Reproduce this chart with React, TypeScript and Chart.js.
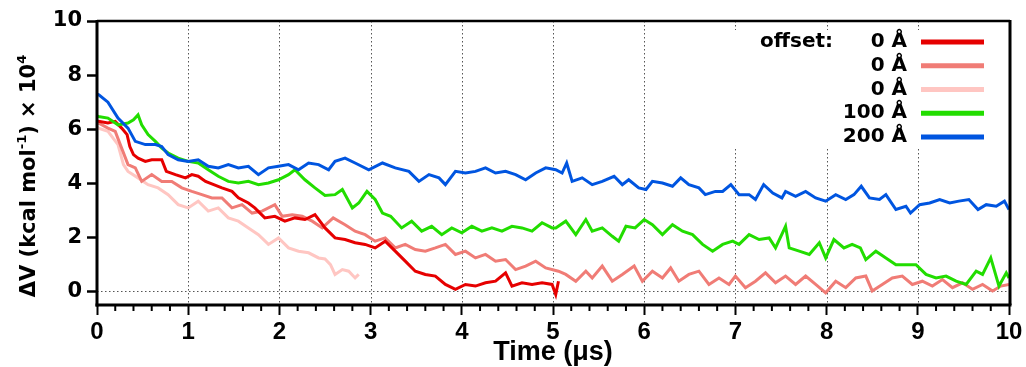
import React, { useEffect, useRef } from 'react';
import { Chart, registerables } from 'chart.js';
Chart.register(...registerables);

// ---- data (time in µs, ΔV in kcal/mol ×10^4) ----
const blueT = [0, 0.02, 0.12, 0.23, 0.34, 0.42, 0.53, 0.64, 0.71, 0.78, 0.89, 1.0, 1.11, 1.22, 1.33, 1.44, 1.55, 1.66, 1.77, 1.88, 1.99, 2.1, 2.21, 2.32, 2.43,
  2.54, 2.61, 2.72, 2.83, 2.98, 3.13, 3.27, 3.42, 3.53, 3.64, 3.75, 3.82, 3.93, 4.04, 4.15, 4.26, 4.37, 4.48, 4.59, 4.7, 4.81, 4.92, 5.03,
  5.1, 5.15, 5.21, 5.32, 5.43, 5.54, 5.67, 5.76, 5.83, 5.94, 6.02, 6.09, 6.2, 6.31, 6.4, 6.49, 6.6, 6.67, 6.78, 6.86, 6.95, 7.04, 7.15, 7.22, 7.31, 7.41, 7.51,
  7.55, 7.66, 7.77, 7.88, 7.99, 8.1, 8.21, 8.3, 8.38, 8.47, 8.58, 8.65, 8.76, 8.87, 8.92, 9.02, 9.13, 9.24, 9.35, 9.45, 9.56, 9.66, 9.75, 9.86, 9.95, 10.0];
const blueV = [7.3, 7.27, 7.0, 6.41, 6.04, 5.55, 5.43, 5.43, 5.36, 5.06, 4.87, 4.81, 4.87, 4.63, 4.57, 4.69, 4.57, 4.63, 4.32, 4.57, 4.63, 4.69, 4.5, 4.75, 4.69,
  4.5, 4.81, 4.93, 4.75, 4.5, 4.75, 4.57, 4.44, 4.07, 4.32, 4.2, 3.95, 4.44, 4.38, 4.44, 4.57, 4.38, 4.44, 4.32, 4.13, 4.38, 4.57, 4.5,
  4.38, 4.75, 4.07, 4.2, 3.95, 4.07, 4.26, 3.95, 4.13, 3.83, 3.77, 4.07, 4.01, 3.89, 4.2, 3.95, 3.83, 3.58, 3.7, 3.7, 3.95, 3.58, 3.58, 3.4, 3.95, 3.64, 3.46,
  3.7, 3.52, 3.7, 3.46, 3.34, 3.58, 3.4, 3.58, 3.89, 3.46, 3.4, 3.58, 3.03, 3.15, 2.9, 3.21, 3.27, 3.4, 3.27, 3.34, 3.4, 3.03, 3.21, 3.15, 3.34, 3.03];

const greenT = [0, 0.015, 0.12, 0.23, 0.34, 0.4, 0.45, 0.49, 0.56, 0.64, 0.71, 0.78, 0.89, 1.0, 1.11, 1.22, 1.33, 1.44, 1.55, 1.66, 1.77, 1.88, 1.99, 2.1, 2.17, 2.28, 2.39, 2.5,
  2.61, 2.69, 2.8, 2.87, 2.96, 3.05, 3.13, 3.22, 3.34, 3.45, 3.56, 3.67, 3.78, 3.89, 4.0, 4.11, 4.22, 4.33, 4.44, 4.55, 4.66, 4.77, 4.88, 4.99,
  5.03, 5.14, 5.25, 5.36, 5.43, 5.54, 5.65, 5.72, 5.8, 5.9, 6.0, 6.09, 6.2, 6.31, 6.42, 6.53, 6.64, 6.75, 6.86, 6.97, 7.04, 7.15, 7.26, 7.37, 7.44, 7.55,
  7.59, 7.7, 7.81, 7.92, 7.99, 8.08, 8.19, 8.28, 8.37, 8.43, 8.54, 8.65, 8.76, 8.87, 8.98, 9.09, 9.2, 9.31, 9.42, 9.53, 9.64, 9.71, 9.8, 9.89, 9.97, 10.0];
const greenV = [6.5, 6.47, 6.41, 6.16, 6.23, 6.35, 6.53, 6.16, 5.8, 5.55, 5.3, 5.12, 4.93, 4.81, 4.75, 4.5, 4.26, 4.07, 4.01, 4.07, 3.95, 4.01, 4.13, 4.32, 4.5, 4.13, 3.83, 3.55,
  3.58, 3.77, 3.09, 3.27, 3.7, 3.4, 2.9, 2.78, 2.35, 2.6, 2.23, 2.41, 2.1, 2.35, 2.17, 2.41, 2.23, 2.35, 2.23, 2.41, 2.35, 2.23, 2.54, 2.35,
  2.35, 2.6, 2.1, 2.66, 2.23, 2.35, 2.04, 1.86, 2.41, 2.35, 2.66, 2.47, 2.1, 2.47, 2.23, 2.1, 1.74, 1.49, 1.74, 1.86, 1.74, 2.1, 1.92, 1.98, 1.61, 2.41,
  1.61, 1.49, 1.37, 1.8, 1.24, 1.92, 1.61, 1.74, 1.61, 1.18, 1.49, 1.24, 0.99, 0.99, 0.99, 0.63, 0.5, 0.57, 0.38, 0.26, 0.75, 0.63, 1.24, 0.2, 0.69, 0.5];

const redT = [0, 0.015, 0.12, 0.2, 0.27, 0.33, 0.36, 0.4, 0.45, 0.53, 0.6, 0.71, 0.76, 0.86, 0.97, 1.04, 1.11, 1.19, 1.28, 1.37, 1.48, 1.55, 1.66, 1.73, 1.84, 1.95, 2.06, 2.17, 2.28, 2.39,
  2.5, 2.61, 2.72, 2.83, 2.94, 3.05, 3.16, 3.27, 3.38, 3.49, 3.6, 3.71, 3.82, 3.93, 4.04, 4.15, 4.26, 4.37, 4.48, 4.55, 4.66, 4.77, 4.88, 4.99, 5.03, 5.06];
const redV = [6.3, 6.29, 6.23, 6.29, 6.04, 5.8, 5.36, 5.06, 4.93, 4.81, 4.87, 4.87, 4.44, 4.32, 4.2, 4.32, 4.26, 4.07, 3.95, 3.83, 3.7, 3.46, 3.27, 3.09, 2.72, 2.78, 2.6, 2.72, 2.66, 2.84,
  2.35, 1.98, 1.92, 1.8, 1.74, 1.61, 1.86, 1.49, 1.12, 0.75, 0.63, 0.57, 0.26, 0.08, 0.26, 0.2, 0.32, 0.38, 0.69, 0.2, 0.32, 0.26, 0.32, 0.26, -0.11, 0.38];

const salmonT = [0, 0.015, 0.12, 0.2, 0.27, 0.34, 0.42, 0.49, 0.6, 0.71, 0.82, 0.93, 1.04, 1.15, 1.26, 1.37, 1.48, 1.59, 1.7, 1.81, 1.95, 2.03, 2.14, 2.25, 2.36, 2.47,
  2.59, 2.72, 2.83, 2.94, 3.05, 3.16, 3.27, 3.38, 3.49, 3.6, 3.71, 3.82, 3.93, 4.04, 4.15, 4.26, 4.37, 4.48, 4.59, 4.7, 4.81, 4.92, 5.06,
  5.14, 5.25, 5.36, 5.43, 5.54, 5.65, 5.76, 5.89, 5.98, 6.09, 6.2, 6.29, 6.38, 6.49, 6.6, 6.71, 6.82, 6.93, 7.0, 7.11, 7.22, 7.33, 7.44, 7.55,
  7.66, 7.77, 7.88, 7.99, 8.1, 8.21, 8.32, 8.43, 8.5, 8.61, 8.72, 8.83, 8.94, 9.05, 9.16, 9.27, 9.38, 9.49, 9.6, 9.71, 9.82, 9.91, 10.0];
const salmonV = [6.2, 6.23, 6.04, 5.92, 5.3, 4.69, 4.57, 4.07, 4.32, 4.07, 4.07, 3.83, 3.7, 3.58, 3.46, 3.46, 3.09, 3.21, 2.9, 2.97, 3.21, 2.78, 2.84, 2.78, 2.6, 2.35,
  2.72, 2.47, 2.23, 2.1, 1.86, 1.98, 1.61, 1.74, 1.55, 1.49, 1.61, 1.74, 1.37, 1.49, 1.24, 1.37, 1.12, 1.18, 0.81, 0.94, 1.12, 0.87, 0.75,
  0.63, 0.38, 0.75, 0.5, 0.94, 0.38, 0.63, 0.94, 0.38, 0.75, 0.5, 0.87, 0.38, 0.63, 0.75, 0.26, 0.5, 0.26, 0.57, 0.14, 0.38, 0.69, 0.32, 0.57,
  0.26, 0.57, 0.26, -0.05, 0.38, 0.14, 0.5, 0.57, 0.02, 0.26, 0.5, 0.57, 0.26, 0.38, 0.2, 0.44, 0.14, 0.32, 0.08, 0.26, 0.02, 0.2, 0.26];

const pinkT = [0, 0.015, 0.12, 0.23, 0.29, 0.34, 0.45, 0.56, 0.67, 0.78, 0.89, 1.0, 1.11, 1.22, 1.33, 1.44, 1.55, 1.66, 1.77, 1.88, 1.99, 2.1, 2.21, 2.32, 2.43, 2.5, 2.56, 2.61, 2.69, 2.76, 2.83, 2.87];
const pinkV = [6.1, 6.04, 5.92, 5.43, 4.69, 4.44, 4.2, 3.95, 3.83, 3.58, 3.21, 3.09, 3.34, 2.97, 3.09, 2.72, 2.6, 2.35, 2.1, 1.74, 1.98, 1.61, 1.49, 1.43, 1.24, 1.2, 0.99, 0.63, 0.81, 0.75, 0.5, 0.63];

const seriesLabels = ['0 Å', '0 Å', '0 Å', '100 Å', '200 Å'];
const seriesColors = ['#e60000', '#f07c76', '#ffc6c2', '#22dd00', '#0055e0'];
const xTickValues = [0, 1, 2, 3, 4, 5, 6, 7, 8, 9, 10];
const yTickValues = [0, 2, 4, 6, 8, 10];
const xGridValues = [1, 2, 3, 4, 5, 6, 7, 8, 9];

const mk = (t: number[], v: number[]) => t.map((x, i) => ({ x, y: v[i] }));

const decorPlugin = {
  id: 'decor',
  beforeDatasetsDraw(chart: any) {
    const { ctx, chartArea: a, scales } = chart;
    const xs = scales.x, ys = scales.y;
    ctx.save();
    ctx.strokeStyle = '#555';
    ctx.lineWidth = 1;
    ctx.setLineDash([1.5, 2.5]);
    xGridValues.forEach((v) => {
      const px = Math.round(xs.getPixelForValue(v)) + 0.5;
      ctx.beginPath(); ctx.moveTo(px, a.top); ctx.lineTo(px, a.bottom); ctx.stroke();
    });
    const py = Math.round(ys.getPixelForValue(0)) + 0.5;
    ctx.beginPath(); ctx.moveTo(a.left, py); ctx.lineTo(a.right, py); ctx.stroke();
    ctx.restore();
  },
  afterDatasetsDraw(chart: any) {
    const { ctx, chartArea: a, scales } = chart;
    const xs = scales.x;
    ctx.save();
    // legend
    const boxL = a.right - 278, boxT = a.top + 9;
    ctx.fillStyle = '#fff';
    ctx.fillRect(boxL, boxT, 265, 118);
    ctx.font = 'bold 20px "DejaVu Sans"';
    ctx.fillStyle = '#000';
    ctx.textBaseline = 'middle';
    ctx.textAlign = 'right';
    const textR = a.right - 102;
    const row0 = a.top + 21;
    ctx.fillText('offset:', a.right - 176, row0);
    seriesLabels.forEach((lab, i) => {
      const y = row0 + i * 23.75;
      ctx.fillStyle = '#000';
      ctx.fillText(lab, textR, y);
      ctx.strokeStyle = seriesColors[i];
      ctx.lineWidth = 5;
      ctx.beginPath(); ctx.moveTo(a.right - 88, y); ctx.lineTo(a.right - 25, y); ctx.stroke();
    });
    // frame
    ctx.strokeStyle = '#000';
    ctx.lineWidth = 2.5;
    ctx.beginPath(); ctx.moveTo(a.left, a.top); ctx.lineTo(a.right + 1, a.top); ctx.stroke();
    ctx.lineWidth = 3;
    ctx.beginPath(); ctx.moveTo(a.right + 1, a.top - 1); ctx.lineTo(a.right + 1, a.bottom); ctx.stroke();
    ctx.beginPath(); ctx.moveTo(a.left, a.top - 1); ctx.lineTo(a.left, a.bottom + 1.5); ctx.stroke();
    ctx.beginPath(); ctx.moveTo(a.left - 1.5, a.bottom); ctx.lineTo(a.right + 2.5, a.bottom); ctx.stroke();
    // minor x ticks
    ctx.lineWidth = 2;
    for (let k = 1; k < 50; k++) {
      if (k % 5 === 0) continue;
      const px = xs.getPixelForValue(k / 5);
      ctx.beginPath(); ctx.moveTo(px, a.bottom); ctx.lineTo(px, a.bottom + 6); ctx.stroke();
    }
    // y title with superscripts
    ctx.translate(27, 176);
    ctx.rotate(-Math.PI / 2);
    const big = 'bold 21px "DejaVu Sans"', small = 'bold 13px "DejaVu Sans"';
    const parts: [string, boolean][] = [['ΔV (kcal mol', false], ['-1', true], [') × 10', false], ['4', true]];
    let total = 0;
    parts.forEach(([s, sup]) => { ctx.font = sup ? small : big; total += ctx.measureText(s).width; });
    let x = -total / 2;
    ctx.textAlign = 'left';
    ctx.textBaseline = 'alphabetic';
    ctx.fillStyle = '#000';
    parts.forEach(([s, sup]) => {
      ctx.font = sup ? small : big;
      ctx.fillText(s, x, sup ? -1 : 8);
      x += ctx.measureText(s).width;
    });
    ctx.restore();
  },
};

export default function App() {
  const ref = useRef<HTMLCanvasElement>(null);
  useEffect(() => {
    const chart = new Chart(ref.current as HTMLCanvasElement, {
      type: 'line',
      data: {
        datasets: [
          { label: '200 Å', data: mk(blueT, blueV), borderColor: seriesColors[4], order: 0 },
          { label: '100 Å', data: mk(greenT, greenV), borderColor: seriesColors[3], order: 1 },
          { label: '0 Å', data: mk(redT, redV), borderColor: seriesColors[0], order: 2 },
          { label: '0 Å', data: mk(salmonT, salmonV), borderColor: seriesColors[1], order: 3 },
          { label: '0 Å', data: mk(pinkT, pinkV), borderColor: seriesColors[2], order: 4 },
        ] as any,
      },
      options: {
        responsive: false,
        animation: false,
        layout: { padding: { top: 21, right: 17, left: 0, bottom: 0 } },
        plugins: { legend: { display: false }, tooltip: { enabled: false } },
        elements: { point: { radius: 0 }, line: { borderWidth: 3, tension: 0, borderJoinStyle: 'miter' } },
        scales: {
          x: {
            type: 'linear', min: 0, max: 10,
            afterBuildTicks: (s: any) => { s.ticks = xTickValues.map((v) => ({ value: v })); },
            afterFit: (s: any) => { s.height = 62; },
            grid: { drawOnChartArea: false, tickLength: 10, tickWidth: 2, tickColor: '#000' },
            border: { display: false },
            ticks: { color: '#000', padding: 3, maxRotation: 0, autoSkip: false, font: { family: '"Liberation Sans Narrow", "Liberation Sans"', weight: 'bold', size: 24 } },
            title: { display: true, text: 'Time (μs)', color: '#000', padding: { top: 0, bottom: 1 }, font: { family: '"Liberation Sans Narrow", "Liberation Sans"', weight: 'bold', size: 27, lineHeight: 1 } },
          },
          y: {
            type: 'linear', min: -0.5, max: 10,
            afterBuildTicks: (s: any) => { s.ticks = yTickValues.map((v) => ({ value: v })); },
            afterFit: (s: any) => { s.width = 97; },
            grid: { drawOnChartArea: false, tickLength: 10, tickWidth: 2.5, tickColor: '#000' },
            border: { display: false },
            ticks: { color: '#000', padding: 5, font: { family: '"DejaVu Sans"', weight: 'bold', size: 21 } },
          },
        },
      } as any,
      plugins: [decorPlugin],
    });
    return () => chart.destroy();
  }, []);
  return (
    <div style={{ position: 'fixed', left: 0, top: 0, width: 1026, height: 367, background: '#fff' }}>
      <canvas ref={ref} width={1026} height={367} style={{ display: 'block' }} />
    </div>
  );
}
